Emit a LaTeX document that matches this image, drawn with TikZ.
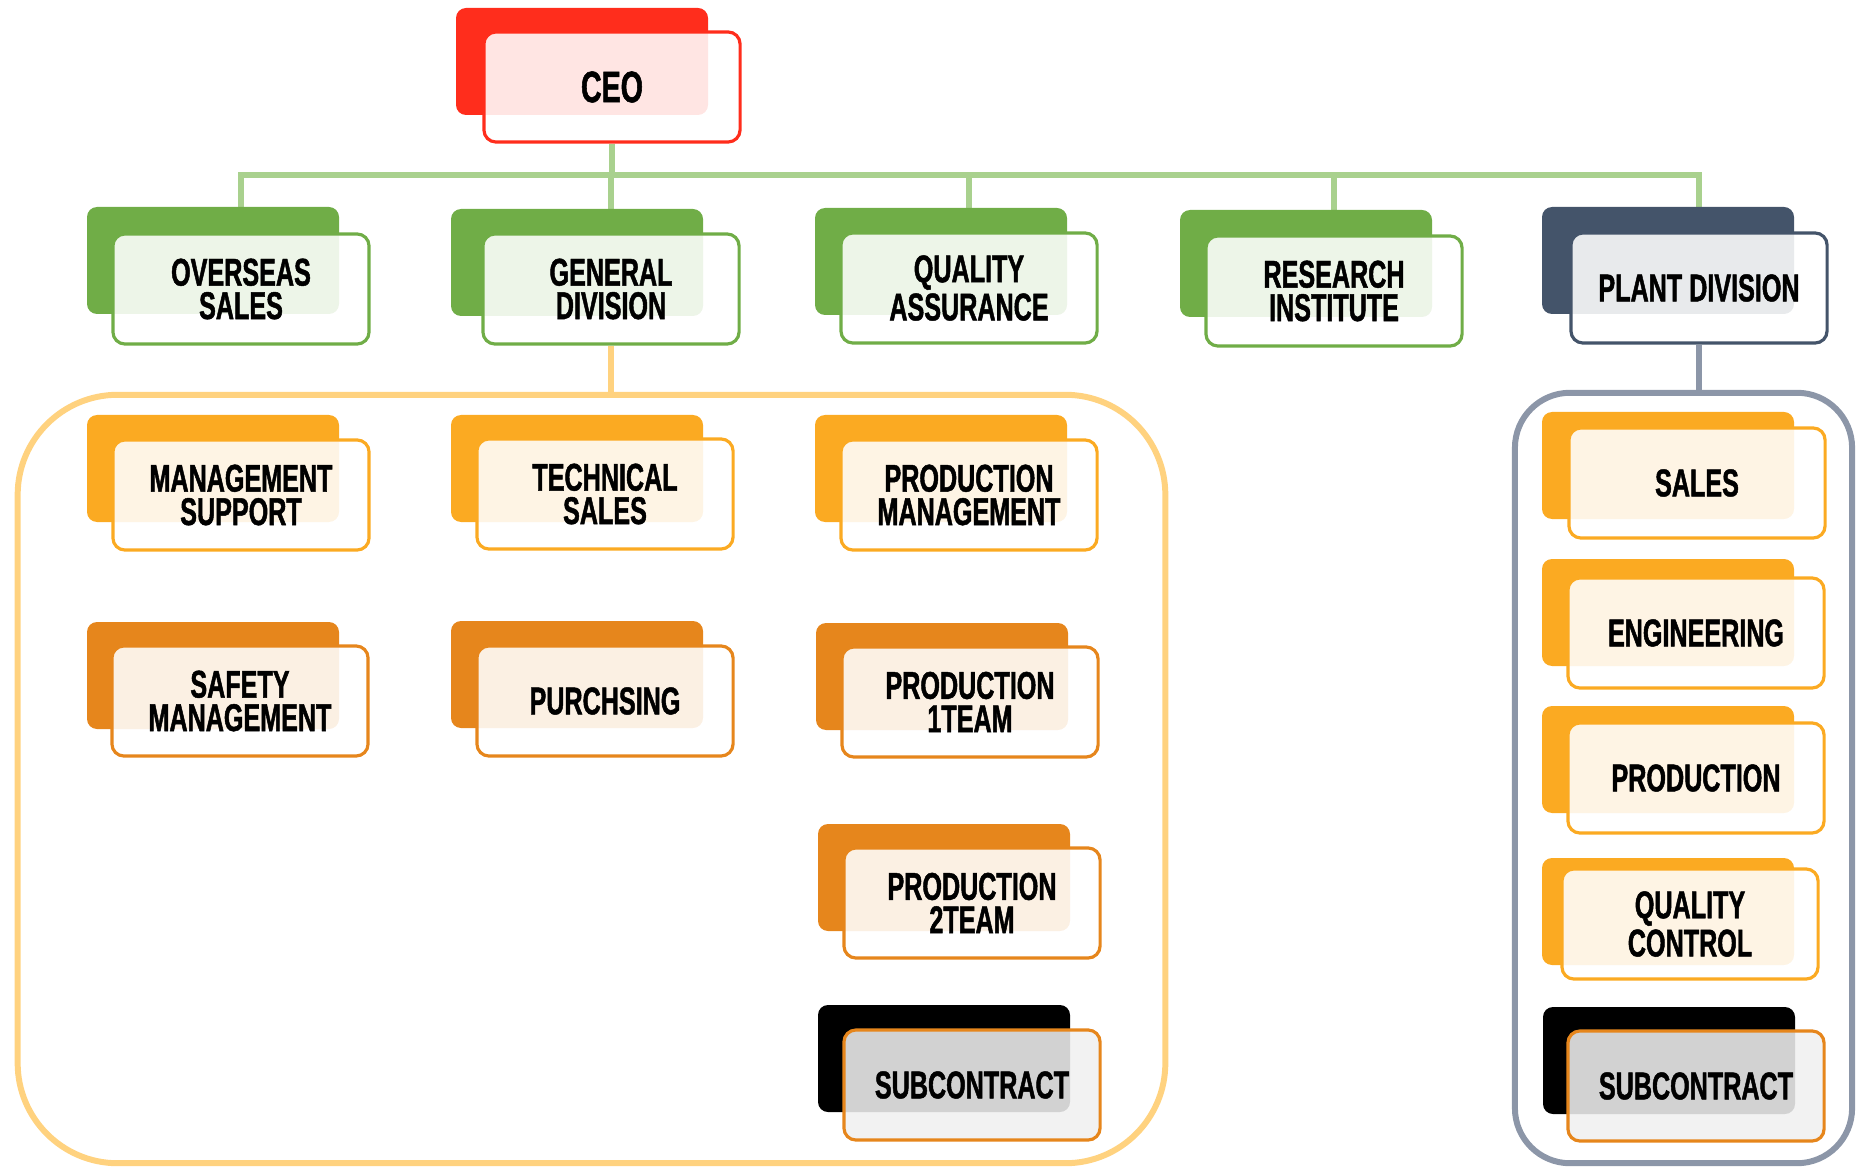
\documentclass[tikz,border=0pt]{standalone}
\usepackage{fontspec}
\newfontfamily\orgfont{Liberation Sans}[FakeStretch=0.65, BoldFeatures={FakeBold=1.2}]
\usepackage{tikz}
\usetikzlibrary{positioning,backgrounds}

\definecolor{ceored}{HTML}{FF2D1C}
\definecolor{boxgreen}{HTML}{70AD47}
\definecolor{linegreen}{HTML}{A9D18E}
\definecolor{plantblue}{HTML}{44546A}
\definecolor{boxgold}{HTML}{FBAA22}
\definecolor{boxorange}{HTML}{E6861C}
\definecolor{framegold}{HTML}{FFD27F}
\definecolor{framegray}{HTML}{8C96A8}

\tikzset{
  bk/.style={fill=#1, rounded corners=0.1cm},
  fr/.style={draw=#1, line width=0.9pt, fill=white, fill opacity=0.88,
    text opacity=1, rounded corners=0.12cm, minimum width=2.56cm,
    minimum height=1.10cm, inner sep=0pt, align=center,
    font=\orgfont\bfseries\fontsize{11}{9.5}\selectfont},
  area/.style={draw=#1, line width=1.7pt},
  link/.style={draw=#1, line width=1.7pt},
}

\begin{document}
\begin{tikzpicture}[x=0.01cm, y=-0.01cm]
  \useasboundingbox (0,0) rectangle (1858,1167);
  % frames
  \node[area=framegold, rounded corners=1.0cm, minimum width=11.47cm,
    minimum height=7.68cm] (genarea) at (591.5,779) {};
  \node[area=framegray, rounded corners=0.55cm, minimum width=3.37cm,
    minimum height=7.70cm] (plantarea) at (1683.5,778) {};
  % top
  \fill[bk=ceored] (456,8) rectangle ++(252,107);
  \node[fr=ceored, font=\orgfont\bfseries\fontsize{12.5}{10}\selectfont] (ceo) at (612,87) {CEO};
  % divisions
  \fill[bk=boxgreen] (87,207) rectangle ++(252,107);
  \node[fr=boxgreen] (ovs) at (241,289) {OVERSEAS\\SALES};
  \fill[bk=boxgreen] (451,209) rectangle ++(252,107);
  \node[fr=boxgreen] (gen) at (611,289) {GENERAL\\DIVISION};
  \fill[bk=boxgreen] (815,208) rectangle ++(252,107);
  \node[fr=boxgreen] (qa) at (969,288) {QUALITY\\ASSURANCE};
  \fill[bk=boxgreen] (1180,210) rectangle ++(252,107);
  \node[fr=boxgreen] (res) at (1334,291) {RESEARCH\\INSTITUTE};
  \fill[bk=plantblue] (1542,207) rectangle ++(252,107);
  \node[fr=plantblue] (plant) at (1699,288) {PLANT DIVISION};
  % general division
  \fill[bk=boxgold] (87,415) rectangle ++(252,107);
  \node[fr=boxgold] (mgs) at (241,495) {MANAGEMENT\\SUPPORT};
  \fill[bk=boxgold] (451,415) rectangle ++(252,107);
  \node[fr=boxgold] (tech) at (605,494) {TECHNICAL\\SALES};
  \fill[bk=boxgold] (815,415) rectangle ++(252,107);
  \node[fr=boxgold] (pmg) at (969,495) {PRODUCTION\\MANAGEMENT};
  \fill[bk=boxorange] (87,622) rectangle ++(252,107);
  \node[fr=boxorange] (safe) at (240,701) {SAFETY\\MANAGEMENT};
  \fill[bk=boxorange] (451,621) rectangle ++(252,107);
  \node[fr=boxorange] (purch) at (605,701) {PURCHSING};
  \fill[bk=boxorange] (816,623) rectangle ++(252,107);
  \node[fr=boxorange] (prodA) at (970,702) {PRODUCTION\\1TEAM};
  \fill[bk=boxorange] (818,824) rectangle ++(252,107);
  \node[fr=boxorange] (prodB) at (972,903) {PRODUCTION\\2TEAM};
  \fill[bk=black] (818,1005) rectangle ++(252,107);
  \node[fr=boxorange, fill=black!6] (subA) at (972,1085) {SUBCONTRACT};
  % plant division
  \fill[bk=boxgold] (1542,412) rectangle ++(252,107);
  \node[fr=boxgold] (sales) at (1697,483) {SALES};
  \fill[bk=boxgold] (1542,559) rectangle ++(252,107);
  \node[fr=boxgold] (eng) at (1696,633) {ENGINEERING};
  \fill[bk=boxgold] (1542,706) rectangle ++(252,107);
  \node[fr=boxgold] (prod) at (1696,778) {PRODUCTION};
  \fill[bk=boxgold] (1542,858) rectangle ++(252,107);
  \node[fr=boxgold] (qc) at (1690,924) {QUALITY\\CONTROL};
  \fill[bk=black] (1543,1007) rectangle ++(252,107);
  \node[fr=boxorange, fill=black!6] (subB) at (1696,1086) {SUBCONTRACT};
  % links
  \begin{scope}[on background layer]
    \coordinate (bus) at (ceo.south |- 0,175);
    \draw[link=linegreen] (ceo.south) -- (bus);
    \foreach \n in {ovs,gen,qa,res,plant}
      \draw[link=linegreen] (bus) -| (\n.north);
    \draw[link=framegold] (gen.south) -- (gen.south |- genarea.north);
    \draw[link=framegray] (plant.south) -- (plant.south |- plantarea.north);
  \end{scope}
\end{tikzpicture}
\end{document}
